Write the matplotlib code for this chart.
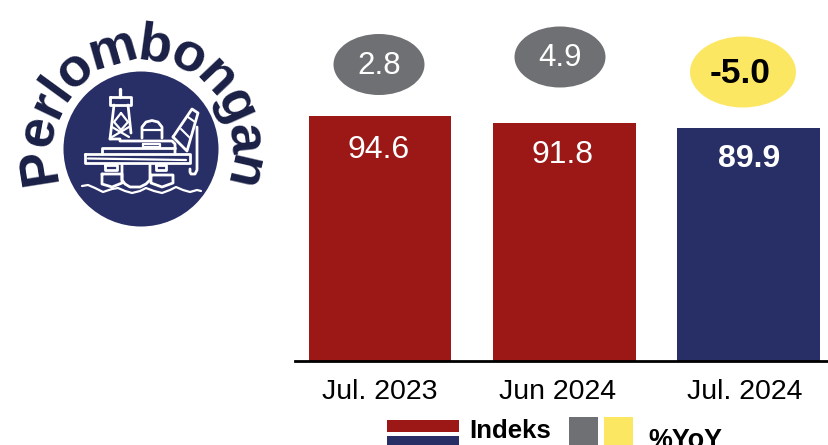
import matplotlib
matplotlib.use('Agg')
import matplotlib.pyplot as plt
from matplotlib.patches import Ellipse, Circle, Rectangle
from matplotlib.textpath import TextPath
from matplotlib.font_manager import FontProperties
import numpy as np

plt.rcParams['font.family'] = ['Liberation Sans', 'DejaVu Sans']

categories = ['Jul. 2023', 'Jun 2024', 'Jul. 2024']
indeks = [94.6, 91.8, 89.9]
yoy = [2.8, 4.9, -5.0]
title = 'Perlombongan'

RED = '#9b1816'
NAVY = '#282e66'
GREY = '#6f7073'
YELLOW = '#fce763'
W, H = 829, 445

fig = plt.figure(figsize=(W/100, H/100), dpi=100)

# bars
ax = fig.add_axes([295/W, (H-361)/H, (W-295)/W, 361/H])
colors = [RED, RED, NAVY]
x = np.arange(3)
ax.bar(x, indeks, width=0.775, color=colors)
ax.set_xlim(-0.461, 2.437)
ax.set_ylim(0, 139.4)
ax.set_yticks([])
# labels sit a bit off the bar centres in the original
ax.set_xticks([0, 0.966, 1.981])
ax.set_xticklabels(categories, fontsize=20.5)
ax.tick_params(axis='x', length=0, pad=13)
for s in ['top', 'left', 'right']:
    ax.spines[s].set_visible(False)
ax.spines['bottom'].set_linewidth(2)

# overlay in pixel coordinates for logo, bubbles and legend
ov = fig.add_axes([0, 0, 1, 1])
ov.set_xlim(0, W)
ov.set_ylim(H, 0)
ov.axis('off')
ov.patch.set_alpha(0)

value_x = [379, 563, 749]
value_y = [150, 155, 159]
for i in range(3):
    ov.text(value_x[i], value_y[i], '%.1f' % indeks[i], color='white', fontsize=23,
            ha='center', va='center', weight='bold' if i == 2 else 'normal')

bubble_x = [379, 560, 743]
bubble_y = [64.5, 57, 72]
bubble_w = [91, 91, 106]
bubble_h = [61, 61, 71]
for i in range(3):
    neg = yoy[i] < 0
    ov.add_patch(Ellipse((bubble_x[i], bubble_y[i]), bubble_w[i], bubble_h[i],
                         color=YELLOW if neg else GREY, lw=0))
    ov.text(bubble_x[i] - (3 if neg else 0), bubble_y[i] + 1.5, '%.1f' % yoy[i], ha='center', va='center',
            fontsize=25.5 if neg else 22.5, color='black' if neg else 'white',
            weight='bold' if neg else 'normal')

# logo
cx, cy = 141, 149
ov.add_patch(Circle((cx, cy), 77.5, color=NAVY, lw=0))

# curved title, letter by letter
fs = 39
R = 89
fp = FontProperties(family='Liberation Sans', weight='bold', size=fs)
adv = []
for c in title:
    adv.append(TextPath((0, 0), 'x' + c + 'x', prop=fp).get_extents().width
               - TextPath((0, 0), 'xx', prop=fp).get_extents().width)
adv = np.array(adv) * 100 / 72
ang = 0.91 * (np.cumsum(adv) - adv/2) / R
ang = ang - (ang[0] + ang[-1])/2 + np.radians(2)
for c, a in zip(title, ang):
    px = cx + R*np.sin(a)
    py = cy - R*np.cos(a)
    ov.text(px, py, c, fontproperties=fp, color='#1a1f45', rotation=-np.degrees(a),
            rotation_mode='anchor', ha='center', va='baseline')

# rig drawing, white lines
def rig(xs, ys, lw=2):
    ov.plot(xs, ys, color='white', lw=lw, solid_joinstyle='round', solid_capstyle='round')

# derrick
rig([120, 120], [89, 97], 2.4)
rig([110, 131, 131, 110, 110], [97, 97, 105, 105, 97])
rig([114, 110], [105, 139])
rig([128, 131], [105, 133])
rig([121, 128, 121, 114, 121], [113, 122, 130, 122, 113], 1.6)
rig([112, 129], [127, 137], 1.6)
rig([129, 112], [127, 137], 1.6)
# decks
rig([110, 120, 120, 172, 175, 175], [139, 139, 141, 141, 144, 154])
rig([102, 102, 175], [154, 148, 148])
rig([85, 190, 190, 117, 117, 85, 85], [154, 154, 163, 163, 163, 163, 154])
rig([88, 186], [158.5, 160], 1.6)
rig([143, 160, 160, 143, 143], [144, 144, 147, 147, 144], 1.6)
# dome
rig([142, 142, 146, 152, 158, 162, 162], [138, 127, 122, 120.5, 122, 127, 138])
rig([143, 161], [130, 130], 1.6)
# crane and hook
rig([173, 192, 198, 187, 173], [137, 109, 113, 151, 137])
rig([181, 190], [129, 138], 1.5)
rig([188, 195], [117, 122], 1.5)
rig([197, 197, 195, 191, 190, 190], [127, 170, 174, 174, 172, 169])
# columns and pontoons
rig([105, 117, 117, 105, 105], [165, 165, 170, 170, 165])
rig([156, 166, 166, 156, 156], [165, 165, 170, 170, 165])
rig([122, 122, 125, 130, 140, 146, 150, 150], [165, 180, 184, 187, 187, 184, 180, 165])
rig([102, 122, 122, 112, 102, 102], [174, 174, 183, 187, 184, 174])
rig([151, 173, 173, 162, 151, 151], [175, 175, 183, 187, 183, 175])
# waves
wave_x = [82, 88, 95, 103, 112, 118, 125, 132, 140, 146, 154, 162, 170, 176, 183, 190, 197, 201]
wave_y = [186, 185, 188, 192, 189, 188, 191, 193, 191, 188, 191, 193, 190, 187, 190, 192, 190, 191]
rig(wave_x, wave_y, 1.6)

# legend, runs off the bottom of the image like the original
ov.add_patch(Rectangle((387, 420), 72, 12, color=RED, lw=0))
ov.add_patch(Rectangle((387, 436), 72, 12, color=NAVY, lw=0))
ov.add_patch(Rectangle((569, 417), 29.5, 30, color=GREY, lw=0))
ov.add_patch(Rectangle((604, 417), 29.5, 30, color=YELLOW, lw=0))
ov.text(469, 431.5, 'Indeks', fontsize=18.6, weight='bold', ha='left', va='center')
ov.text(648, 440.5, '%YoY', fontsize=19.4, weight='bold', ha='left', va='center')

fig.savefig('out.png', dpi=100)
